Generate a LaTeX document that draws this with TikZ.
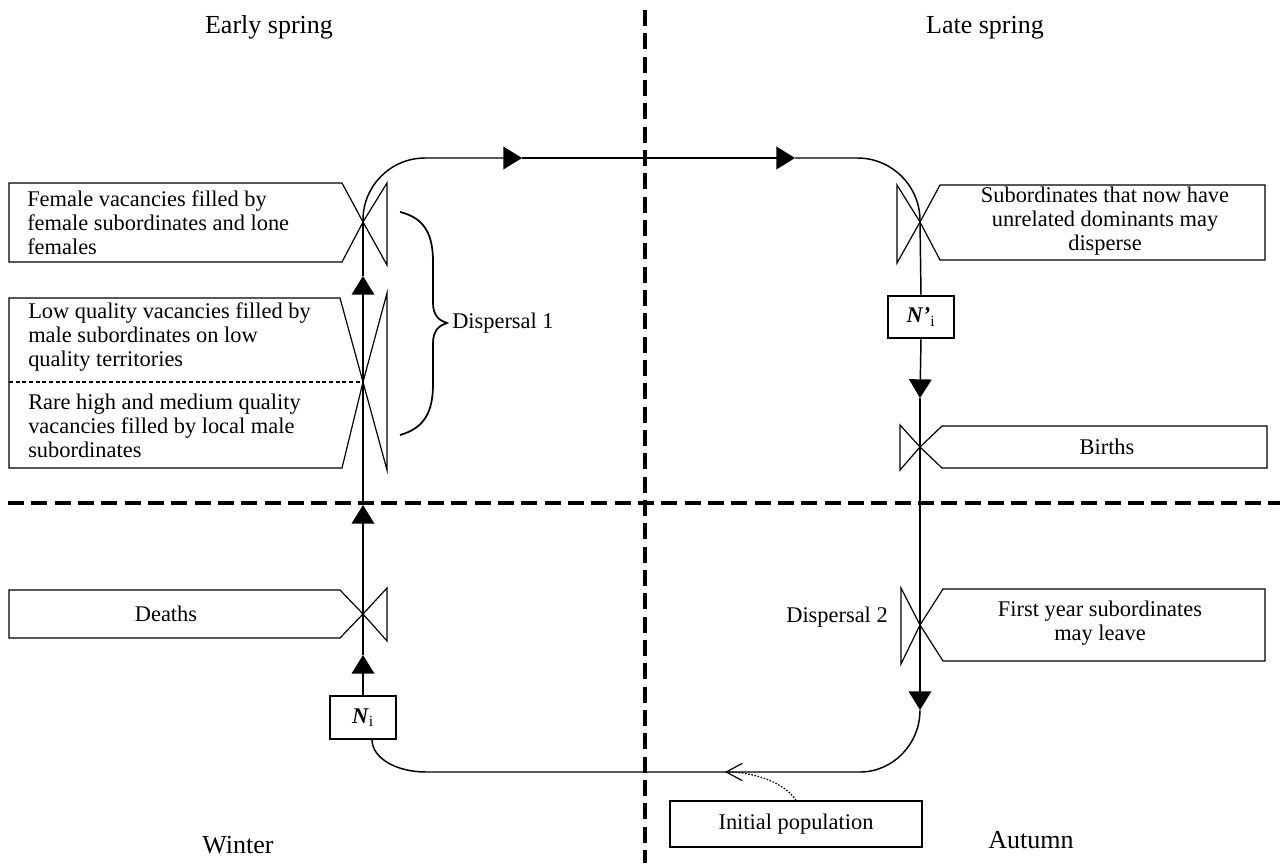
\documentclass[tikz,border=0pt]{standalone}
\usepackage{fontspec}
\setmainfont{Liberation Serif}
\usetikzlibrary{arrows.meta}
\tikzset{
 flow/.style={line width=1.1pt},
 shapeline/.style={line width=0.9pt, line join=miter},
 sep/.style={line width=2.6pt, dash pattern=on 12pt off 5.5pt},
 body/.style={font=\fontsize{16.8}{18}\selectfont, inner sep=0pt},
 head/.style={font=\fontsize{19.5}{22}\selectfont, inner sep=0pt},
 fwd/.style={-{Triangle[length=14pt,width=17pt]}},
 stockbox/.style={draw, line width=0.9pt, inner sep=0pt, body},
}
\begin{document}
\begin{tikzpicture}[x=0.75pt,y=-0.75pt]
\fill[white] (0,0) rectangle (1280,863);
\useasboundingbox (0,0) rectangle (1280,863);

% season separators
\draw[sep] (645,10) -- (645,863);
\draw[sep] (8,503) -- (1280,503);

% season labels
\node[head, anchor=base] (hES) at (269,34) {Early spring};
\node[head, anchor=base] (hLS) at (985,34) {Late spring};
\node[head, anchor=base] (hW) at (238,853) {Winter};
\node[head, anchor=base] (hA) at (1031,848) {Autumn};

% valve centres and arrow-tip points
\coordinate (v1) at (363,222);
\coordinate (v2) at (363,382);
\coordinate (v3) at (363,614);
\coordinate (v4) at (920,222);
\coordinate (v5) at (920,447);
\coordinate (v6) at (920,625);
\coordinate (a1) at (363,655);
\coordinate (a2) at (363,505);
\coordinate (a3) at (363,276);
\coordinate (a4) at (522,158);
\coordinate (a5) at (795,158);
\coordinate (a6) at (920,398);
\coordinate (a7) at (920,710);
\coordinate (nib) at (372,739.5);
\coordinate (ip) at (725,772);

% stocks
\node[stockbox, minimum width=49.5pt, minimum height=32.25pt] (Ni) at (363,717.5) {\textbf{\textit{N}}\textsubscript{i}};
\node[stockbox, minimum width=49.5pt, minimum height=31.5pt] (Np) at (921,317) {\textbf{\textit{N’}}\textsubscript{i}};
\node[stockbox, minimum width=189pt, minimum height=34.5pt] (init) at (796,824) {Initial population};

% valves and their boxes (left)
\draw[shapeline] (v1) -- (387,183) -- (387,265) -- cycle;
\draw[shapeline] (v1) -- (342,183) -- (9,183) -- (9,262) -- (342,262) -- cycle;
\node[body, anchor=west, align=left] (t1) at (27,223) {Female vacancies filled by\\female subordinates and lone\\females};

\draw[shapeline] (v2) -- (387,293) -- (387,470) -- cycle;
\draw[shapeline] (v2) -- (340,298) -- (9,298) -- (9,468) -- (342,468) -- cycle;
\draw[line width=0.8pt, dash pattern=on 3pt off 2pt] (9,382) -- (v2);
\node[body, anchor=west, align=left] (t2) at (28,337.5) {Low quality vacancies filled by\\male subordinates on low\\quality territories};
\node[body, anchor=west, align=left] (t3) at (28,426) {Rare high and medium quality\\vacancies filled by local male\\subordinates};

\draw[shapeline] (v3) -- (387,588) -- (387,641) -- cycle;
\draw[shapeline] (v3) -- (340,590) -- (9,590) -- (9,638) -- (340,638) -- cycle;
\node[body] (t4) at (166,614) {Deaths};

% valves and their boxes (right)
\draw[shapeline] (v4) -- (897,185) -- (897,263) -- cycle;
\draw[shapeline] (v4) -- (940,185) -- (1265,185) -- (1265,260) -- (940,260) -- cycle;
\node[body, align=center] (t5) at (1105,221) {Subordinates that now have\\unrelated dominants may\\disperse};

\draw[shapeline] (v5) -- (900,425) -- (900,470) -- cycle;
\draw[shapeline] (v5) -- (942,426) -- (1267,426) -- (1267,468) -- (942,468) -- cycle;
\node[body] (t6) at (1107,447) {Births};

\draw[shapeline] (v6) -- (901,588) -- (901,664) -- cycle;
\draw[shapeline] (v6) -- (943,589) -- (1265,589) -- (1265,661) -- (943,661) -- cycle;
\node[body, align=center] (t7) at (1100,623) {First year subordinates\\may leave};

% brace and dispersal labels
\draw[line width=1.3pt] (400,212) .. controls (425,218) and (433,235) .. (433,262) -- (433,303)
  .. controls (433,316) and (440,321) .. (447,323)
  .. controls (440,325) and (433,330) .. (433,343) -- (433,384)
  .. controls (433,411) and (425,428) .. (400,435);
\node[body, anchor=west] (d1) at (452,323) {Dispersal 1};
\node[body, anchor=east] (d2) at (888,617) {Dispersal 2};

% main flow
\draw[flow, fwd] (Ni.north) -- (a1);
\draw[flow] (a1) -- (v3);
\draw[flow, fwd] (v3) -- (a2);
\draw[flow] (a2) -- (v2);
\draw[flow, fwd] (v2) -- (a3);
\draw[flow] (a3) -- (v1);
\draw[flow, fwd, rounded corners=46.5pt] (v1) |- (a4);
\draw[flow, fwd] (a4) -- (a5);
\draw[flow, rounded corners=47pt] (a5) -| (v4);
\draw[flow] (v4) -- (Np.north);
\draw[flow, fwd] (Np.south) -- (a6);
\draw[flow] (a6) -- (v5);
\draw[flow] (v5) -- (v6);
\draw[flow, fwd] (v6) -- (a7);
\draw[flow] (a7) .. controls (920,744) and (893,772) .. (860,772) -- (426,772)
  .. controls (396,772) and (372,758) .. (nib);

% initial population inflow
\draw[line width=0.9pt, dash pattern=on 1.2pt off 1.2pt, -{Straight Barb[length=12pt,width=13pt]}]
  (init.north) .. controls (785,783) and (755,772) .. (ip);
\end{tikzpicture}
\end{document}
